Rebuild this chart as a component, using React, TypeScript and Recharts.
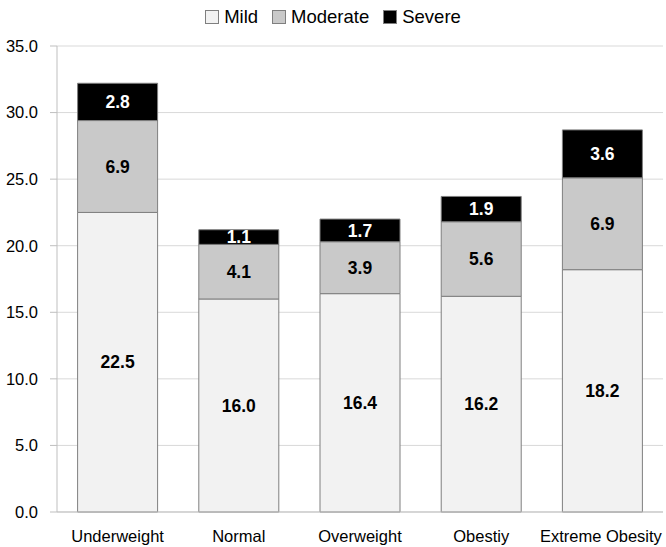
import React from 'react';
import {
  Bar,
  BarChart,
  CartesianGrid,
  LabelList,
  XAxis,
  YAxis,
} from 'recharts';

const categories = ['Underweight', 'Normal', 'Overweight', 'Obestiy', 'Extreme Obesity'];
const mild = [22.5, 16.0, 16.4, 16.2, 18.2];
const moderate = [6.9, 4.1, 3.9, 5.6, 6.9];
const severe = [2.8, 1.1, 1.7, 1.9, 3.6];
const yTicks = [0, 5, 10, 15, 20, 25, 30, 35];

const FONT = '"Liberation Sans", Arial, sans-serif';

const series = [
  { key: 'mild', name: 'Mild', fill: '#f2f2f2', label: '#000' },
  { key: 'moderate', name: 'Moderate', fill: '#c9c9c9', label: '#000' },
  { key: 'severe', name: 'Severe', fill: '#000000', label: '#fff' },
];

const data = categories.map((name, i) => ({
  name,
  mild: mild[i],
  moderate: moderate[i],
  severe: severe[i],
}));

// legend drawn as plain html so it does not push the plot down
const TopLegend = () => (
  <div
    style={{
      position: 'absolute',
      top: 6,
      left: 0,
      width: 666,
      display: 'flex',
      justifyContent: 'center',
      gap: 14,
      fontFamily: FONT,
      fontSize: 18.5,
      lineHeight: '22px',
      color: '#000',
    }}
  >
    {series.map((s) => (
      <span key={s.key} style={{ display: 'flex', alignItems: 'center' }}>
        <span
          style={{
            display: 'inline-block',
            width: 12,
            height: 12,
            background: s.fill,
            border: '1px solid #7f7f7f',
            marginRight: 5,
          }}
        />
        {s.name}
      </span>
    ))}
  </div>
);

const App = () => {
  return (
    <div style={{ position: 'absolute', left: 0, top: 0, width: 666, height: 547, background: '#fff' }}>
      <BarChart
        width={666}
        height={547}
        data={data}
        barCategoryGap="17%"
        margin={{ top: 46, right: 3, left: 0, bottom: 5 }}
      >
        <CartesianGrid vertical={false} stroke="#d9d9d9" />
        <XAxis
          dataKey="name"
          height={30}
          tickLine={false}
          stroke="#bfbfbf"
          tickMargin={12}
          tick={{ fill: '#000', fontSize: 16.5, fontFamily: FONT }}
        />
        <YAxis
          width={57}
          domain={[0, 35]}
          ticks={yTicks}
          tickSize={7}
          tickMargin={12}
          stroke="#bfbfbf"
          tickFormatter={(v: number) => v.toFixed(1)}
          tick={{ fill: '#000', fontSize: 16.5, fontFamily: FONT }}
        />
        {series.map((s) => (
          <Bar
            key={s.key}
            dataKey={s.key}
            name={s.name}
            stackId="a"
            fill={s.fill}
            stroke="#7f7f7f"
            strokeWidth={1}
            isAnimationActive={false}
          >
            <LabelList
              dataKey={s.key}
              position="center"
              formatter={(v: number) => v.toFixed(1)}
              style={{
                fill: s.label,
                fontSize: 17.5,
                fontWeight: 'bold',
                fontFamily: FONT,
              }}
            />
          </Bar>
        ))}
      </BarChart>
      <TopLegend />
    </div>
  );
};

export default App;
